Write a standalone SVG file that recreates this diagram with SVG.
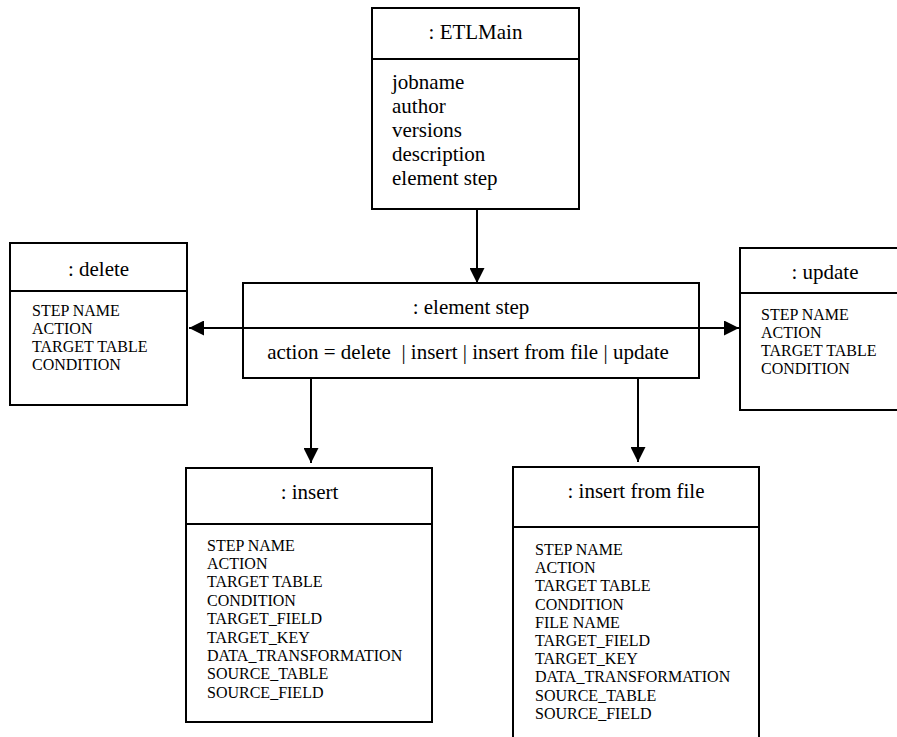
<svg xmlns="http://www.w3.org/2000/svg" width="897" height="737" viewBox="0 0 897 737">
<style>
.box{fill:#fff;stroke:#000;stroke-width:2}
.div{stroke:#000;stroke-width:2}
.t{font-size:21px;fill:#000}
.c{text-anchor:middle}
.s{font-size:16px;fill:#000}
.edge{stroke:#000;stroke-width:2;fill:none;marker-end:url(#ah)}
</style>
<defs>
<marker id="ah" viewBox="0 0 15 15" refX="15" refY="7.5" markerWidth="15" markerHeight="15" orient="auto" markerUnits="userSpaceOnUse">
<path d="M0,0 L15,7.5 L0,15 z" fill="#000"/>
</marker>
</defs>
<rect width="897" height="737" fill="#fff"/>
<g id="connectors">
<path class="edge" d="M477,209 L477,283"/>
<path class="edge" d="M243,328 L189,328"/>
<path class="edge" d="M699,328 L739,328"/>
<path class="edge" d="M311,378 L311,463"/>
<path class="edge" d="M638,378 L638,462"/>
</g>
<g id="nodes" font-family="Liberation Serif, Times New Roman, serif">
<g id="etlmain">
<rect class="box" x="372" y="8" width="207" height="201"/>
<line class="div" x1="372" y1="59" x2="579" y2="59"/>
<text class="t c" x="475.5" y="39">: ETLMain</text>
<text class="t" x="392" y="89">jobname</text>
<text class="t" x="392" y="113">author</text>
<text class="t" x="392" y="137">versions</text>
<text class="t" x="392" y="161">description</text>
<text class="t" x="392" y="185">element step</text>
</g>
<g id="element-step">
<rect class="box" x="243" y="283" width="456" height="95"/>
<line class="div" x1="243" y1="328" x2="699" y2="328"/>
<text class="t c" x="471" y="314">: element step</text>
<text class="t c" x="468" y="359" xml:space="preserve">action = delete  | insert | insert from file | update</text>
</g>
<g id="delete">
<rect class="box" x="10" y="243" width="177" height="162"/>
<line class="div" x1="10" y1="291" x2="187" y2="291"/>
<text class="t c" x="98.5" y="276">: delete</text>
<text class="s" x="32" y="316">STEP NAME</text>
<text class="s" x="32" y="334">ACTION</text>
<text class="s" x="32" y="352">TARGET TABLE</text>
<text class="s" x="32" y="370">CONDITION</text>
</g>
<g id="update">
<rect class="box" x="740" y="248" width="170" height="162"/>
<line class="div" x1="740" y1="293" x2="910" y2="293"/>
<text class="t c" x="825" y="279">: update</text>
<text class="s" x="761" y="320">STEP NAME</text>
<text class="s" x="761" y="338">ACTION</text>
<text class="s" x="761" y="356">TARGET TABLE</text>
<text class="s" x="761" y="374">CONDITION</text>
</g>
<g id="insert">
<rect class="box" x="186" y="468" width="246" height="254"/>
<line class="div" x1="186" y1="524" x2="432" y2="524"/>
<text class="t c" x="309.5" y="499">: insert</text>
<text class="s" x="207" y="550.5">STEP NAME</text>
<text class="s" x="207" y="568.9">ACTION</text>
<text class="s" x="207" y="587.3">TARGET TABLE</text>
<text class="s" x="207" y="605.7">CONDITION</text>
<text class="s" x="207" y="624.1">TARGET_FIELD</text>
<text class="s" x="207" y="642.5">TARGET_KEY</text>
<text class="s" x="207" y="660.9">DATA_TRANSFORMATION</text>
<text class="s" x="207" y="679.3">SOURCE_TABLE</text>
<text class="s" x="207" y="697.7">SOURCE_FIELD</text>
</g>
<g id="insert-from-file">
<rect class="box" x="513" y="467" width="246" height="290"/>
<line class="div" x1="513" y1="527" x2="759" y2="527"/>
<text class="t c" x="636" y="498">: insert from file</text>
<text class="s" x="535" y="555">STEP NAME</text>
<text class="s" x="535" y="573.2">ACTION</text>
<text class="s" x="535" y="591.4">TARGET TABLE</text>
<text class="s" x="535" y="609.6">CONDITION</text>
<text class="s" x="535" y="627.8">FILE NAME</text>
<text class="s" x="535" y="646">TARGET_FIELD</text>
<text class="s" x="535" y="664.2">TARGET_KEY</text>
<text class="s" x="535" y="682.4">DATA_TRANSFORMATION</text>
<text class="s" x="535" y="700.6">SOURCE_TABLE</text>
<text class="s" x="535" y="718.8">SOURCE_FIELD</text>
</g>
</g>
</svg>
